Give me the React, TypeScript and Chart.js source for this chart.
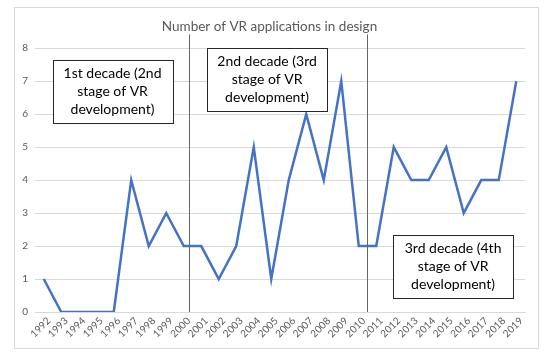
import React, { useEffect, useRef } from "react";
import { Chart, registerables } from "chart.js";

Chart.register(...registerables);

const years = [
  "1992", "1993", "1994", "1995", "1996", "1997", "1998", "1999", "2000", "2001",
  "2002", "2003", "2004", "2005", "2006", "2007", "2008", "2009", "2010", "2011",
  "2012", "2013", "2014", "2015", "2016", "2017", "2018", "2019",
];
const applications = [1, 0, 0, 0, 0, 4, 2, 3, 2, 2, 1, 2, 5, 1, 4, 6, 4, 7, 2, 2, 5, 4, 4, 5, 3, 4, 4, 7];
const titleText = "Number of VR applications in design";
const decadeDividers = [8.3, 18.47];
const decadeLabels = [
  ["1st decade (2nd", "stage of VR", "development)"],
  ["2nd decade (3rd", "stage of VR", "development)"],
  ["3rd decade (4th", "stage of VR", "development)"],
];
// annotation anchors in scale units (category index, value)
const labelAnchors = [
  [3.93, 6.68],
  [12.76, 7.06],
  [23.39, 1.37],
];

const FONT = "Lato, 'Open Sans', sans-serif";

const annotationPlugin = {
  id: "annotations",
  beforeDraw(chart: any) {
    const ctx = chart.ctx;
    ctx.save();
    ctx.fillStyle = "#ffffff";
    ctx.fillRect(0, 0, chart.width, chart.height);
    ctx.restore();
  },
  afterDraw(chart: any) {
    const ctx = chart.ctx;
    const xs = chart.scales.x;
    const ys = chart.scales.y;
    ctx.save();
    // outer frame
    ctx.strokeStyle = "#d9d9d9";
    ctx.lineWidth = 1;
    ctx.strokeRect(14.5, 7.5, 524, 341);
    // dividers
    ctx.strokeStyle = "#666666";
    ctx.lineWidth = 1;
    const top = ys.getPixelForValue(8.42);
    const bottom = ys.getPixelForValue(0);
    decadeDividers.forEach((v) => {
      const x = Math.round(xs.getPixelForValue(v)) + 0.5;
      ctx.beginPath();
      ctx.moveTo(x, top);
      ctx.lineTo(x, bottom);
      ctx.stroke();
    });
    // text boxes
    const w = 120;
    const h = 63;
    ctx.font = `14px ${FONT}`;
    ctx.textAlign = "center";
    ctx.textBaseline = "middle";
    labelAnchors.forEach((a, i) => {
      const cx = xs.getPixelForValue(a[0]);
      const cy = ys.getPixelForValue(a[1]);
      const l = Math.round(cx - w / 2) + 0.5;
      const t = Math.round(cy - h / 2) + 0.5;
      ctx.fillStyle = "#ffffff";
      ctx.fillRect(l, t, w, h);
      ctx.strokeStyle = "#262626";
      ctx.strokeRect(l, t, w, h);
      ctx.fillStyle = "#000000";
      decadeLabels[i].forEach((line, j) => {
        ctx.fillText(line, cx, cy + (j - 1) * 18);
      });
    });
    ctx.restore();
  },
};

export default function App() {
  const ref = useRef<HTMLCanvasElement | null>(null);
  useEffect(() => {
    if (!ref.current) return;
    const chart = new Chart(ref.current, {
      type: "line",
      data: {
        labels: years,
        datasets: [
          {
            data: applications,
            borderColor: "#4472C4",
            borderWidth: 2.5,
            pointRadius: 0,
            tension: 0,
            fill: false,
          },
        ],
      },
      options: {
        responsive: false,
        animation: false,
        devicePixelRatio: 1,
        layout: { padding: { left: 14, right: 25, top: 0, bottom: 9 } },
        plugins: {
          legend: { display: false },
          tooltip: { enabled: false },
          title: {
            display: true,
            text: titleText,
            color: "#595959",
            font: { family: FONT, size: 13.5, weight: "normal" },
            padding: { top: 19, bottom: 13 },
          },
        },
        scales: {
          x: {
            offset: true,
            grid: { display: false, drawTicks: false },
            border: { display: true, color: "#d9d9d9" },
            ticks: {
              autoSkip: false,
              maxRotation: 45,
              minRotation: 45,
              color: "#595959",
              font: { family: FONT, size: 10 },
              padding: 3,
              labelOffset: 5,
            },
            afterFit(scale: any) {
              scale.height = 36;
            },
          },
          y: {
            min: 0,
            max: 8,
            grid: { color: "#d9d9d9", drawTicks: false },
            border: { display: false },
            ticks: {
              stepSize: 1,
              color: "#595959",
              font: { family: FONT, size: 10 },
              padding: 7,
            },
            afterFit(scale: any) {
              scale.width = 21;
            },
          },
        },
      },
      plugins: [annotationPlugin],
    });
    return () => chart.destroy();
  }, []);
  return (
    <div style={{ position: "absolute", left: 0, top: 0, width: 550, height: 357 }}>
      <canvas ref={ref} width={550} height={357} style={{ display: "block" }} />
    </div>
  );
}
